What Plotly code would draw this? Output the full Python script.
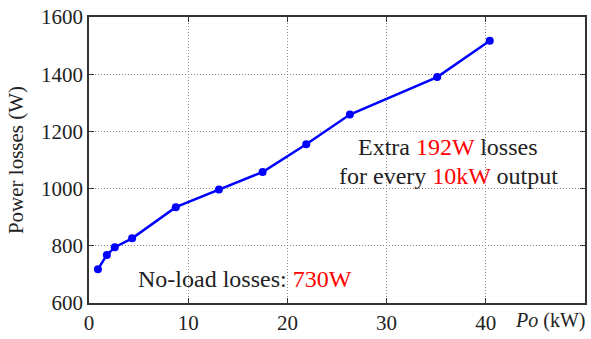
import plotly.graph_objects as go

# Output power (kW) and measured total losses (W)
output_kw = [0.9, 1.8, 2.6, 4.35, 8.75, 13.1, 17.5, 21.9, 26.3, 35.1, 40.4]
losses_w = [718, 768, 795, 826, 935, 997, 1058, 1155, 1259, 1390, 1517]

x_ticks = [0, 10, 20, 30, 40]
y_ticks = [600, 800, 1000, 1200, 1400, 1600]

FONT = "Liberation Serif"
INK = "#222222"

fig = go.Figure()
fig.add_trace(go.Scatter(
    x=output_kw, y=losses_w, mode="lines+markers",
    line=dict(color="#0000ff", width=2.5),
    marker=dict(color="#0000ff", size=8),
    showlegend=False,
))

axis_common = dict(
    showline=True, linecolor="#333333", linewidth=1.5, mirror="ticks",
    ticks="inside", ticklen=5, tickcolor="#333333",
    showgrid=True, gridcolor="#8a8a8a", gridwidth=1, griddash="1px,2px",
    zeroline=False,
    tickfont=dict(family=FONT, size=21, color=INK),
)

fig.update_xaxes(range=[0, 50], tickvals=x_ticks, **axis_common)
fig.update_yaxes(range=[600, 1600], tickvals=y_ticks,
                 title=dict(text="Power losses (W)", font=dict(family=FONT, size=21, color=INK),
                            standoff=12),
                 **axis_common)

fig.add_annotation(x=1.0, y=0, xref="paper", yref="paper", yshift=-17, xshift=2,
                   xanchor="right", yanchor="middle", showarrow=False,
                   text="<i>Po</i> (kW)", font=dict(family=FONT, size=20, color=INK))

fig.add_annotation(x=36.2, y=1146, showarrow=False, xanchor="center", yanchor="middle",
                   text="Extra <span style='color:#ff0000'>192W</span> losses",
                   font=dict(family=FONT, size=24, color=INK))
fig.add_annotation(x=36.2, y=1045, showarrow=False, xanchor="center", yanchor="middle",
                   text="for every <span style='color:#ff0000'>10kW</span> output",
                   font=dict(family=FONT, size=24, color=INK))
fig.add_annotation(x=15.7, y=684, showarrow=False, xanchor="center", yanchor="middle",
                   text="No-load losses: <span style='color:#ff0000'>730W</span>",
                   font=dict(family=FONT, size=24, color=INK))

fig.update_layout(
    width=591, height=339,
    margin=dict(l=89, r=4, t=17, b=32),
    paper_bgcolor="white", plot_bgcolor="white",
)

fig.write_html("out.html")
